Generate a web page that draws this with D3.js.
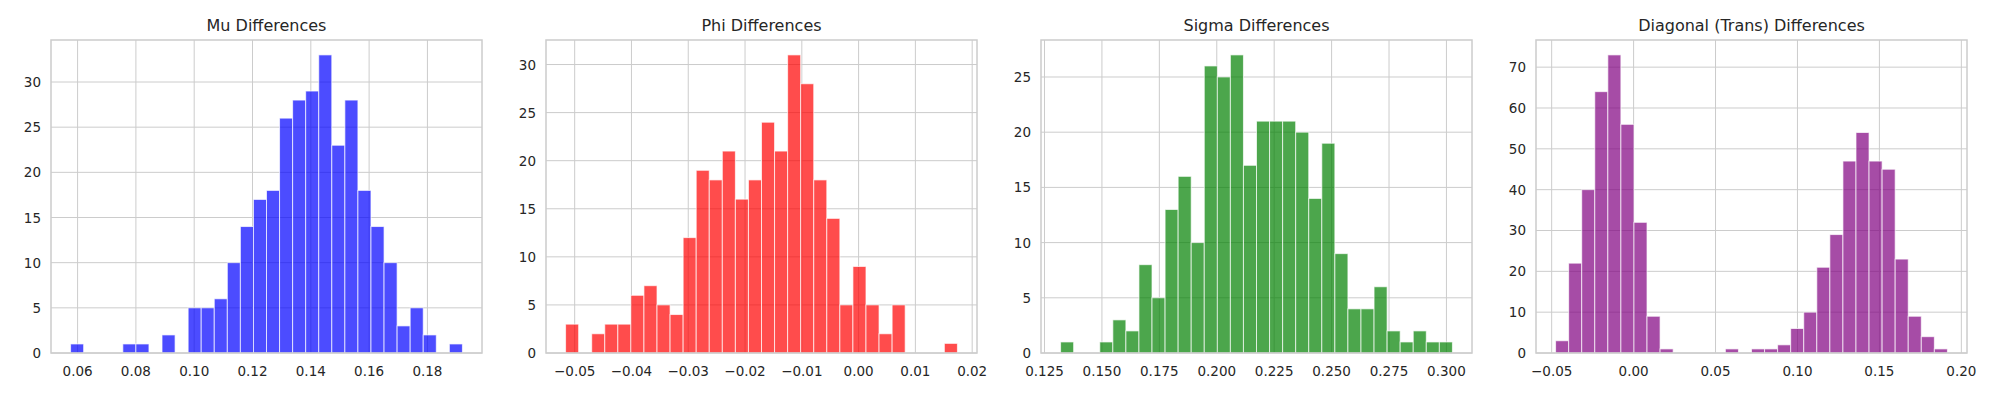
<!DOCTYPE html>
<html>
<head>
<meta charset="utf-8">
<script src="https://cdn.jsdelivr.net/npm/d3@7"></script>
<style>
  body { margin: 0; background: #fff; }
  text { font-family: "DejaVu Sans", sans-serif; fill: #262626; }
</style>
</head>
<body>
<div id="chart-area"></div>
<script>
// histogram counts (30 bins each) and the data range they cover
var muCounts = [1,0,0,0,1,1,0,2,0,5,5,6,10,14,17,18,26,28,29,33,23,28,18,14,10,3,5,2,0,1];
var muRange = [0.0576, 0.1920];
var muTicks = [0.06, 0.08, 0.10, 0.12, 0.14, 0.16, 0.18];

var phiCounts = [3,0,2,3,3,6,7,5,4,12,19,18,21,16,18,24,21,31,28,18,14,5,9,5,2,5,0,0,0,1];
var phiRange = [-0.0516, 0.0174];
var phiTicks = [-0.05, -0.04, -0.03, -0.02, -0.01, 0.00, 0.01, 0.02];

var sigmaCounts = [1,0,0,1,3,2,8,5,13,16,10,26,25,27,17,21,21,21,20,14,19,9,4,4,6,2,1,2,1,1];
var sigmaRange = [0.1320, 0.3026];
var sigmaTicks = [0.125, 0.150, 0.175, 0.200, 0.225, 0.250, 0.275, 0.300];

var diagCounts = [3,22,40,64,73,56,32,9,1,0,0,0,0,1,0,1,1,2,6,10,21,29,47,54,47,45,23,9,4,1];
var diagRange = [-0.0476, 0.1915];
var diagTicks = [-0.05, 0.00, 0.05, 0.10, 0.15, 0.20];

var panels = [
  {title: "Mu Differences", counts: muCounts, range: muRange, xt: muTicks, fmt: ".2f", yt: [0,5,10,15,20,25,30], color: "blue"},
  {title: "Phi Differences", counts: phiCounts, range: phiRange, xt: phiTicks, fmt: ".2f", yt: [0,5,10,15,20,25,30], color: "red"},
  {title: "Sigma Differences", counts: sigmaCounts, range: sigmaRange, xt: sigmaTicks, fmt: ".3f", yt: [0,5,10,15,20,25], color: "green"},
  {title: "Diagonal (Trans) Differences", counts: diagCounts, range: diagRange, xt: diagTicks, fmt: ".2f", yt: [0,10,20,30,40,50,60,70], color: "purple"}
];

var svg = d3.select("#chart-area").append("svg")
  .attr("width", 2000)
  .attr("height", 400);

var lefts = [51, 546, 1041, 1536];
var pw = 431, ptop = 40, ph = 313;

panels.forEach(function(p, i) {
  var g = svg.append("g").attr("transform", "translate(" + lefts[i] + "," + ptop + ")");
  var span = p.range[1] - p.range[0];
  var x = d3.scaleLinear()
    .domain([p.range[0] - span * 0.05, p.range[1] + span * 0.05])
    .range([0, pw]);
  var y = d3.scaleLinear()
    .domain([0, d3.max(p.counts) * 1.05])
    .range([ph, 0]);
  var bw = span / p.counts.length;

  // grid
  g.selectAll(".gx").data(p.xt).enter().append("line")
    .attr("x1", d => x(d)).attr("x2", d => x(d))
    .attr("y1", 0).attr("y2", ph)
    .attr("stroke", "#cccccc").attr("stroke-width", 1);
  g.selectAll(".gy").data(p.yt).enter().append("line")
    .attr("x1", 0).attr("x2", pw)
    .attr("y1", d => y(d)).attr("y2", d => y(d))
    .attr("stroke", "#cccccc").attr("stroke-width", 1);

  // bars
  g.selectAll(".bar").data(p.counts).enter().append("rect")
    .attr("x", (d, j) => x(p.range[0] + j * bw))
    .attr("width", (d, j) => x(p.range[0] + (j + 1) * bw) - x(p.range[0] + j * bw))
    .attr("y", d => y(d))
    .attr("height", d => ph - y(d))
    .attr("fill", p.color)
    .attr("fill-opacity", 0.7)
    .attr("stroke", "#ffffff")
    .attr("stroke-opacity", 0.7)
    .attr("stroke-width", d => d > 0 ? 1 : 0);

  // frame
  g.append("rect")
    .attr("width", pw).attr("height", ph)
    .attr("fill", "none").attr("stroke", "#cccccc").attr("stroke-width", 1.5);

  // tick labels
  var f = d3.format(p.fmt);
  g.selectAll(".xl").data(p.xt).enter().append("text")
    .attr("x", d => x(d)).attr("y", ph + 23)
    .attr("text-anchor", "middle")
    .attr("font-size", 13.5)
    .text(d => f(d).replace("-", "\u2212"));
  g.selectAll(".yl").data(p.yt).enter().append("text")
    .attr("x", -10).attr("y", d => y(d) + 5)
    .attr("text-anchor", "end")
    .attr("font-size", 13.5)
    .text(d => d);

  g.append("text")
    .attr("x", pw / 2).attr("y", -9)
    .attr("text-anchor", "middle")
    .attr("font-size", 16)
    .text(p.title);
});
</script>
</body>
</html>
